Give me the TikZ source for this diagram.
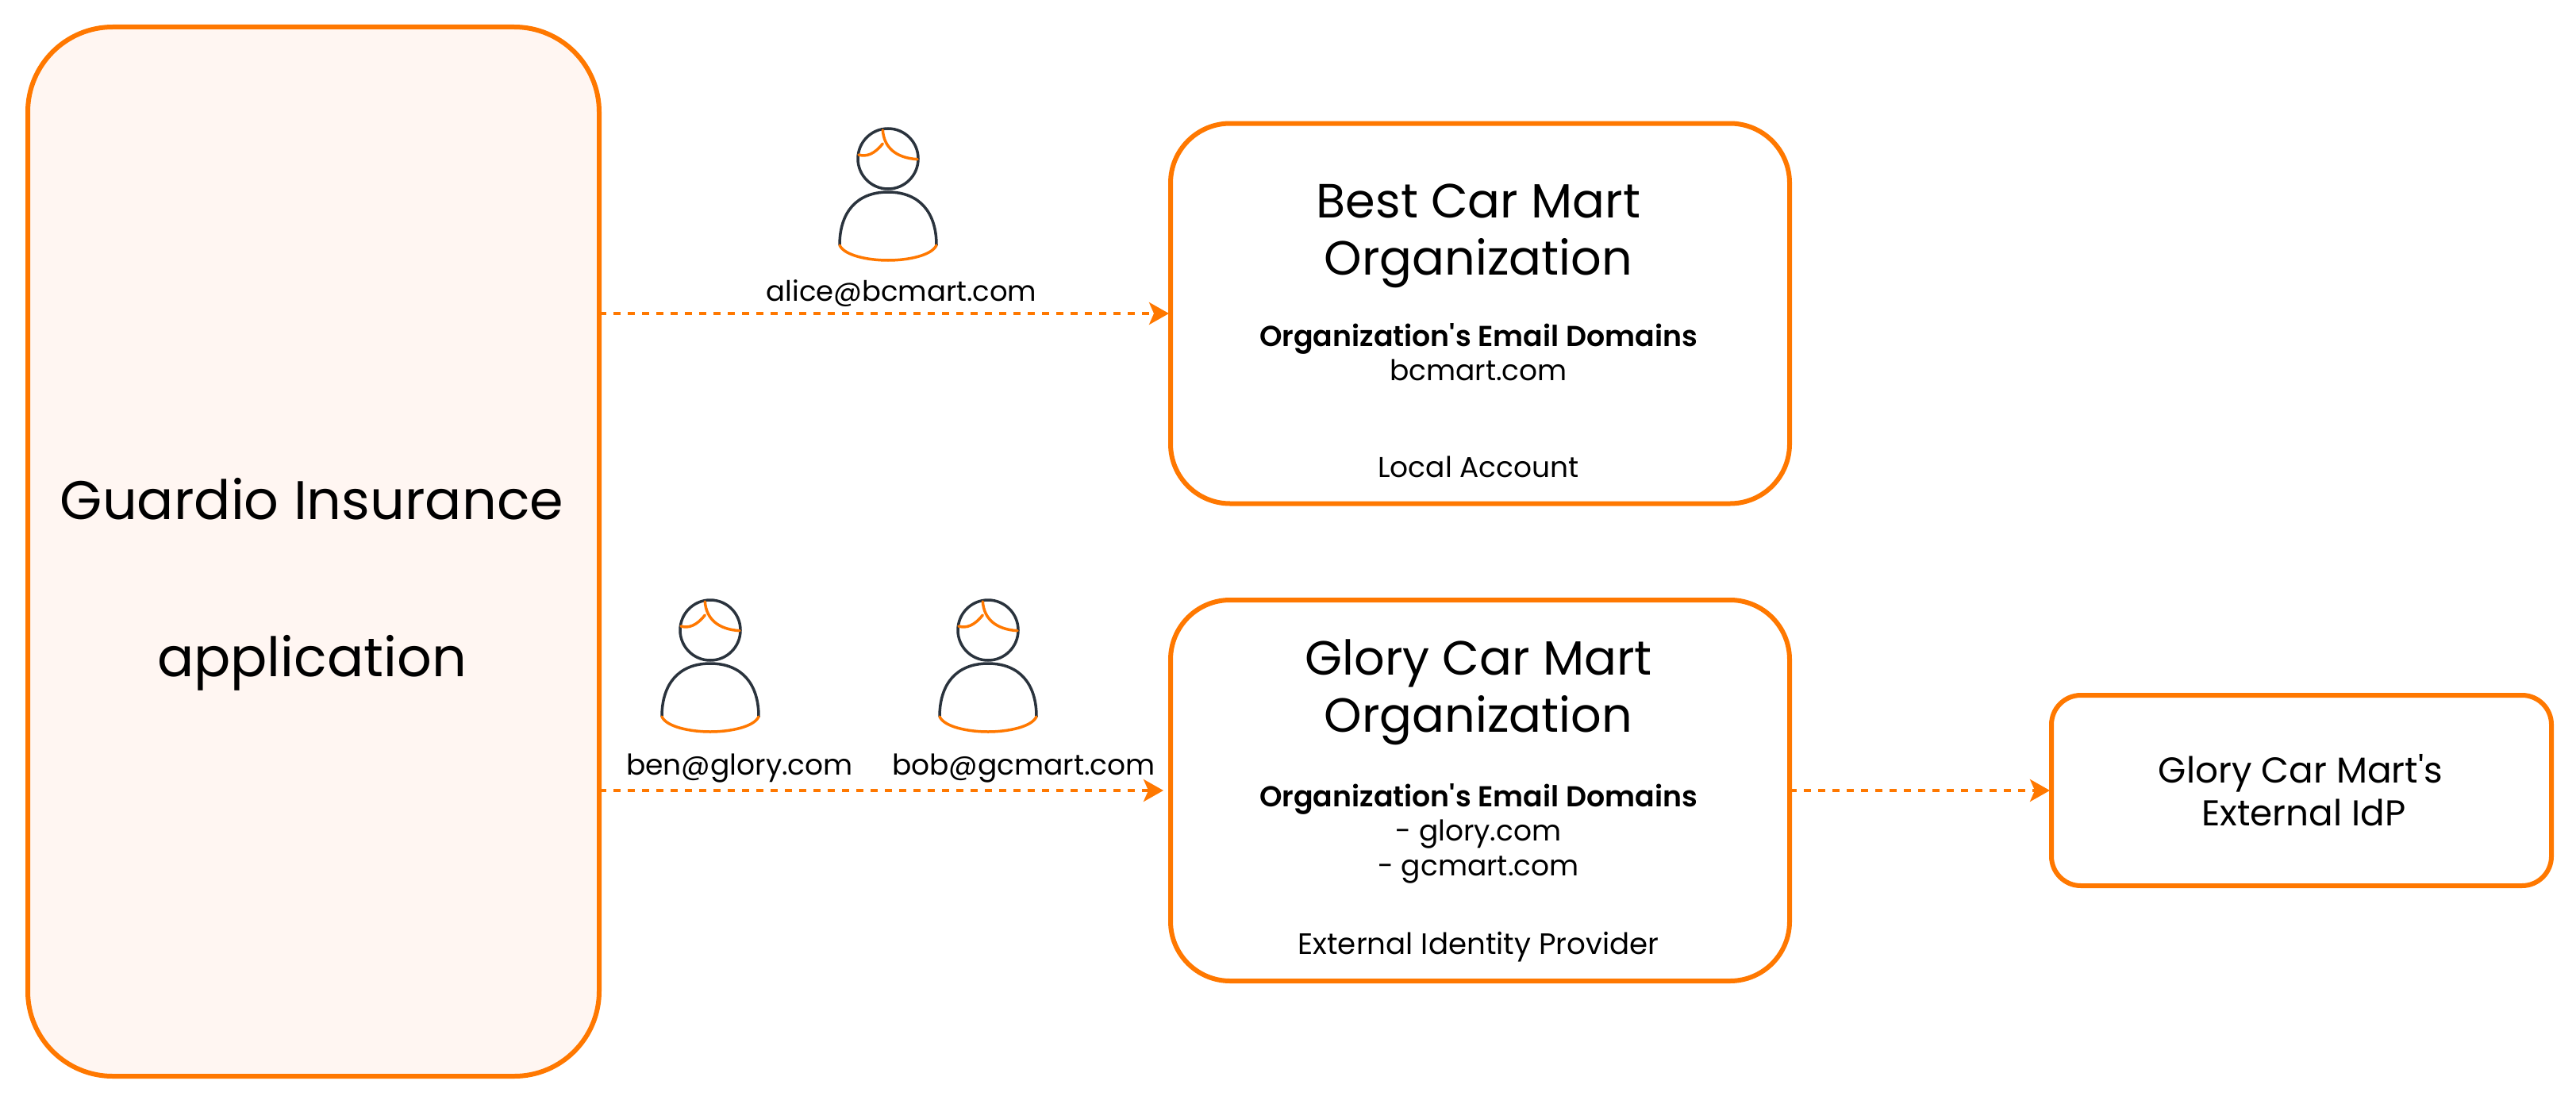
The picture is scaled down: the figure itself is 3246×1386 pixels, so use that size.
\documentclass[tikz,border=0pt]{standalone}
\usepackage{fontspec}
\newfontfamily\pop{Poppins}
\newfontfamily\popsemi{Poppins SemiBold}
\usetikzlibrary{arrows.meta}
\definecolor{org}{HTML}{FF7800}
\definecolor{tint}{HTML}{FFF6F2}
\definecolor{ink}{HTML}{2A333D}
\tikzset{
 box/.style={draw=org,line width=6pt,inner sep=0pt,outer sep=0pt,rectangle},
 flow/.style={draw=org,line width=4pt,dash pattern=on 9pt off 9pt,-{Stealth[length=25pt,width=28pt,inset=6pt,fill=org]}},
 txt/.style={text=black,align=center,inner sep=0pt,anchor=center},
 big/.style={txt,font=\pop\fontsize{68.5}{100}\selectfont},
 title/.style={txt,font=\pop\fontsize{60.5}{72}\selectfont},
 body/.style={txt,font=\pop\fontsize{36}{44}\selectfont},
 headline/.style={txt,font=\popsemi\fontsize{36.3}{44}\selectfont},
}
\newcommand{\personicon}[2]{%
 \begin{scope}[shift={(#1,#2)},line cap=round]
  \draw[ink,line width=3.5pt] (0,0) circle (38);
  \draw[org,line width=3.5pt] (-6.7,-36) .. controls (-5,-14) and (10,-1) .. (37,0.7);
  \draw[org,line width=3.5pt] (-6.7,-19) .. controls (-17,-6) and (-27,-2) .. (-37,-5);
  \draw[ink,line width=3.5pt] (-61,109) .. controls (-61,68) and (-40,42) .. (0,42) .. controls (40,42) and (61,68) .. (61,109);
  \draw[org,line width=3.5pt] (-61,109) .. controls (-55,122) and (-25,128) .. (0,128) .. controls (25,128) and (55,122) .. (61,109);
 \end{scope}}
\begin{document}
\begin{tikzpicture}[x=1pt,y=-1pt]
\useasboundingbox (0,0) rectangle (3246,1386);
\node[box,fill=tint,rounded corners=107pt,minimum width=720pt,minimum height=1322pt] (guardio) at (395,695) {};
\node[box,rounded corners=75pt,minimum width=780pt,minimum height=479pt] (best) at (1865,395) {};
\node[box,rounded corners=75pt,minimum width=780pt,minimum height=480pt] (glory) at (1865,996) {};
\node[box,rounded corners=37pt,minimum width=630pt,minimum height=240pt] (idp) at (2900,996) {};

\draw[flow,shorten >=2pt] (guardio.east |- best.west) -- (best.west);
\draw[flow,shorten >=9pt] (guardio.east |- glory.west) -- (glory.west);
\draw[flow,shorten >=2pt] (glory.east |- idp.west) -- (idp.west);

\node[big] (gt1) at (393,629) {Guardio Insurance};
\node[big] (gt2) at (393,835) {application};

\node[title] (bt) at (1863,297) {Best Car Mart\\Organization};
\node[headline] (bh) at (1863,427) {Organization's Email Domains};
\node[body] (bd) at (1863,466) {bcmart.com};
\node[body] (bl) at (1863,588) {Local Account};

\node[title] (ct) at (1863,872) {Glory Car Mart\\Organization};
\node[headline] (ch) at (1863,1007) {Organization's Email Domains};
\node[body] (cd) at (1863,1073) {- glory.com\\- gcmart.com};
\node[txt,font=\pop\fontsize{37.2}{44}\selectfont] (cl) at (1863,1193) {External Identity Provider};

\node[txt,font=\pop\fontsize{45.3}{54}\selectfont] (it) at (2899,996) {Glory Car Mart's\\\hspace*{8pt}External IdP};

\personicon{1119}{200}
\personicon{895}{794}
\personicon{1245}{794}
\node[txt,font=\pop\fontsize{35.4}{44}\selectfont] (alice) at (1136,370) {alice@bcmart.com};
\node[body] (ben) at (932,968) {ben@glory.com};
\node[body] (bob) at (1290,968) {bob@gcmart.com};
\end{tikzpicture}
\end{document}
